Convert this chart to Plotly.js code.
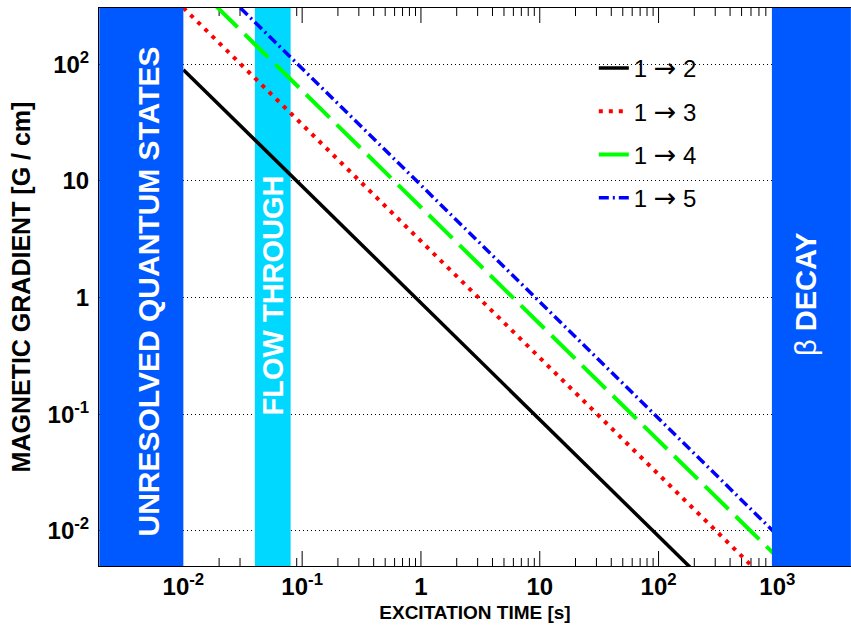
<!DOCTYPE html>
<html>
<head>
<meta charset="utf-8">
<script src="https://cdn.plot.ly/plotly-3.0.1.min.js"></script>
<style>
  html, body { margin: 0; padding: 0; background: #ffffff; }
  #chart { width: 851px; height: 626px; }
</style>
</head>
<body>
<div id="chart"></div>
<script>
// Excitation time [s] and the required magnetic gradient [G/cm] per transition
const excitationTime = [0.01, 0.1, 1, 10, 100, 1000];
const gradient12 = [90, 9, 0.9, 0.09, 0.009, 0.0009];
const gradient13 = [305, 30.5, 3.05, 0.305, 0.0305, 0.00305];
const gradient14 = [595, 59.5, 5.95, 0.595, 0.0595, 0.00595];
const gradient15 = [920, 92, 9.2, 0.92, 0.092, 0.0092];
const transitionNames = ['1', '1', '1', '1'];
const transitionTargets = ['2', '3', '4', '5'];

// Excluded time regions [s], bounded by the visible time range
const unresolvedSpan = [0.00196, 0.01];
const flowThroughSpan = [0.04, 0.08];
const betaDecaySpan = [900, 4160];
const gradientSpan = [0.005, 304];

// Axis ticks
const xTickVals = [0.01, 0.1, 1, 10, 100, 1000];
const xTickText = ['10<sup>-2</sup>', '10<sup>-1</sup>', '1', '10', '10<sup>2</sup>', '10<sup>3</sup>'];
const yTickVals = [0.01, 0.1, 1, 10, 100];
const yTickText = ['10<sup>-2</sup>', '10<sup>-1</sup>', '1', '10', '10<sup>2</sup>'];

const FONT = 'Liberation Sans, Arial, Helvetica, sans-serif';
const ARROW = '<span style="font-family:DejaVu Sans;font-size:27px">\u2192</span>';
const RANGE_X = [-2.710, 3.620];
const RANGE_Y = [-2.301, 2.483];
const PLOT_H = 558;   // px height of the plotting area

// tick marks are hidden where an opaque region lies over the axis
function outsideRegions(t) {
  if (t <= unresolvedSpan[1] * 1.0001) return false;
  if (t >= flowThroughSpan[0] * 0.9999 && t <= flowThroughSpan[1] * 1.0001) return false;
  if (t >= betaDecaySpan[0] * 0.9999) return false;
  return true;
}
const xMinor = [];
for (let e = -3; e <= 3; e++) {
  for (let k = 2; k <= 9; k++) xMinor.push(k * Math.pow(10, e));
}
const xMinorShown = xMinor.filter(outsideRegions);
const xMajorShown = xTickVals.filter(outsideRegions);

// inward tick marks on the bottom and top edges of the frame
function tickMarks(vals, lenPx) {
  const decades = lenPx * (RANGE_Y[1] - RANGE_Y[0]) / PLOT_H;
  const yb = Math.pow(10, RANGE_Y[0]), yt = Math.pow(10, RANGE_Y[1]);
  const f = Math.pow(10, decades);
  const xs = [], ys = [];
  vals.forEach(function (t) {
    xs.push(t, t, null, t, t, null);
    ys.push(yb, yb * f, null, yt, yt / f, null);
  });
  return {
    x: xs, y: ys, mode: 'lines', line: { color: '#000000', width: 1 },
    showlegend: false, hoverinfo: 'skip', cliponaxis: false
  };
}

function transition(i, yvals, color, width, dash) {
  const name = transitionNames[i] + ' ' + ARROW + ' ' + transitionTargets[i];
  return {
    x: excitationTime, y: yvals, name: name, legendgroup: 'g' + i,
    mode: 'lines', line: { color: color, width: width, dash: dash },
    hoverinfo: 'skip'
  };
}

function region(span, color) {
  return {
    x: [span[0], span[1], span[1], span[0], span[0]],
    y: [gradientSpan[0], gradientSpan[0], gradientSpan[1], gradientSpan[1], gradientSpan[0]],
    mode: 'lines', fill: 'toself', fillcolor: color,
    line: { width: 0, color: color },
    showlegend: false, hoverinfo: 'skip'
  };
}

const traces = [
  region(flowThroughSpan, '#00d8ff'),
  tickMarks(xMajorShown, 15),
  tickMarks(xMinorShown, 8),
  transition(0, gradient12, '#000000', 3.5, 'solid'),
  transition(1, gradient13, '#ff0000', 4, '4px,6px'),
  transition(2, gradient14, '#00ff00', 4, '33px,10px'),
  transition(3, gradient15, '#0000ff', 3.5, '10px,4px,2px,4px'),
  region(unresolvedSpan, '#0059ff'),
  region(betaDecaySpan, '#0059ff'),
  // carries the labelled time axis
  { x: [], y: [], xaxis: 'x2', yaxis: 'y', mode: 'lines', showlegend: false, hoverinfo: 'skip' }
];

const bandText = { family: FONT, size: 29, color: '#ffffff', weight: 'bold' };

const layout = {
  width: 851, height: 626,
  margin: { l: 99, r: 0, t: 8, b: 60 },
  paper_bgcolor: '#ffffff', plot_bgcolor: '#ffffff',
  showlegend: true,
  legend: {
    x: 0.658, y: 0.932, xanchor: 'left', yanchor: 'top',
    bgcolor: 'rgba(0,0,0,0)', borderwidth: 0,
    font: { family: FONT, size: 24, color: '#000000' },
    tracegroupgap: 9
  },
  xaxis: {
    type: 'log', range: RANGE_X,
    tickmode: 'array', tickvals: xMajorShown, showticklabels: false, ticks: '',
    mirror: true, showline: true, linecolor: '#000000', linewidth: 1,
    showgrid: false, zeroline: false
  },
  xaxis2: {
    type: 'log', range: RANGE_X, overlaying: 'x', anchor: 'y', side: 'bottom',
    tickmode: 'array', tickvals: xTickVals, ticktext: xTickText,
    ticks: '', showline: false, showgrid: false, zeroline: false,
    tickfont: { family: FONT, size: 24, color: '#000000', weight: 'bold' },
    ticklabelstandoff: 4,
    title: { text: 'EXCITATION TIME [s]', font: { family: FONT, size: 19, color: '#000000', weight: 'bold' }, standoff: 6 }
  },
  yaxis: {
    type: 'log', range: RANGE_Y,
    tickmode: 'array', tickvals: yTickVals, ticktext: yTickText,
    ticks: '', mirror: true, showline: true, linecolor: '#000000', linewidth: 1, zeroline: false,
    showgrid: true, gridcolor: '#000000', gridwidth: 1, griddash: '1px,3px',
    tickfont: { family: FONT, size: 24, color: '#000000', weight: 'bold' },
    ticklabelstandoff: 4,
    title: { text: 'MAGNETIC GRADIENT [G / cm]', font: { family: FONT, size: 25, color: '#000000', weight: 'bold' }, standoff: 9 }
  },
  annotations: [
    { text: 'UNRESOLVED QUANTUM STATES', xref: 'paper', yref: 'paper', x: 0.0652, y: 0.492,
      textangle: -90, showarrow: false, xanchor: 'center', yanchor: 'middle',
      font: Object.assign({}, bandText, { size: 30 }) },
    { text: 'FLOW THROUGH', xref: 'paper', yref: 'paper', x: 0.2307, y: 0.4857,
      textangle: -90, showarrow: false, xanchor: 'center', yanchor: 'middle', font: bandText },
    { text: '<span style="font-weight:normal">\u03b2</span> DECAY', xref: 'paper', yref: 'paper', x: 0.9402, y: 0.4875,
      textangle: -90, showarrow: false, xanchor: 'center', yanchor: 'middle', font: bandText }
  ]
};

Plotly.newPlot('chart', traces, layout, { displayModeBar: false, staticPlot: true });
</script>
</body>
</html>
